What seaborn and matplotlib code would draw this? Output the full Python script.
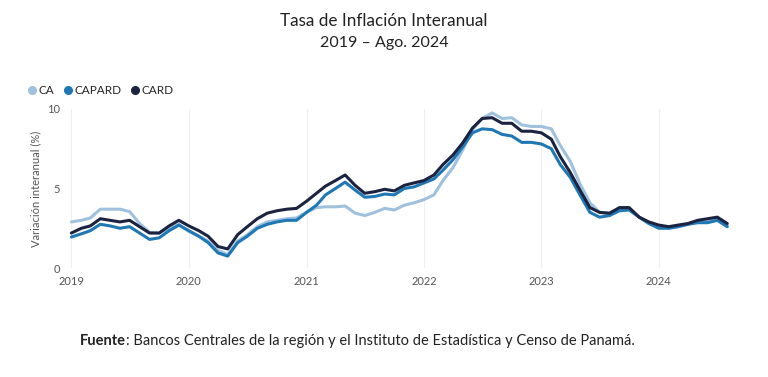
import numpy as np
import pandas as pd
import matplotlib.pyplot as plt
from matplotlib.lines import Line2D
import seaborn as sns

# monthly year-on-year inflation, Jan 2019 - Aug 2024
months = pd.date_range("2019-01-01", "2024-08-01", freq="MS")

ca = [2.9, 3.0, 3.15, 3.7, 3.7, 3.7, 3.55, 2.8, 2.25, 2.2, 2.5, 2.75,
      2.3, 2.0, 1.7, 1.1, 0.85, 1.7, 2.1, 2.6, 2.9, 3.0, 3.1, 3.15,
      3.5, 3.8, 3.85, 3.85, 3.9, 3.45, 3.3, 3.5, 3.75, 3.65, 3.95, 4.1,
      4.3, 4.6, 5.5, 6.3, 7.4, 8.7, 9.4, 9.75, 9.4, 9.45, 9.0, 8.9,
      8.9, 8.75, 7.7, 6.7, 5.3, 4.1, 3.5, 3.4, 3.7, 3.75, 3.2, 2.85,
      2.6, 2.5, 2.6, 2.75, 2.9, 2.95, 3.05, 2.7]
capard = [1.95, 2.15, 2.35, 2.75, 2.65, 2.5, 2.6, 2.2, 1.8, 1.9, 2.35, 2.7,
          2.35, 2.0, 1.6, 0.95, 0.75, 1.6, 2.0, 2.5, 2.75, 2.9, 3.0, 3.0,
          3.5, 3.95, 4.6, 5.0, 5.4, 4.9, 4.45, 4.5, 4.65, 4.6, 5.0, 5.1,
          5.35, 5.6, 6.15, 6.8, 7.6, 8.5, 8.75, 8.7, 8.4, 8.3, 7.9, 7.9,
          7.8, 7.5, 6.5, 5.7, 4.6, 3.5, 3.2, 3.3, 3.6, 3.65, 3.2, 2.8,
          2.5, 2.5, 2.6, 2.75, 2.85, 2.85, 3.0, 2.6]
card = [2.2, 2.5, 2.65, 3.1, 3.0, 2.9, 3.0, 2.6, 2.2, 2.2, 2.65, 3.0,
        2.65, 2.35, 2.0, 1.35, 1.2, 2.1, 2.6, 3.1, 3.45, 3.6, 3.7, 3.75,
        4.2, 4.7, 5.15, 5.5, 5.85, 5.2, 4.7, 4.8, 4.95, 4.85, 5.2, 5.35,
        5.5, 5.85, 6.5, 7.1, 7.85, 8.8, 9.4, 9.45, 9.1, 9.1, 8.6, 8.6,
        8.5, 8.1, 7.0, 6.0, 4.9, 3.8, 3.5, 3.45, 3.8, 3.8, 3.2, 2.9,
        2.7, 2.6, 2.7, 2.8, 3.0, 3.1, 3.2, 2.8]

series = ["CA", "CAPARD", "CARD"]
colors = ["#9fc1de", "#1f78b4", "#1b2340"]
years = ["2019", "2020", "2021", "2022", "2023", "2024"]

df = pd.DataFrame({"fecha": months, "CA": ca, "CAPARD": capard, "CARD": card})
df = df.melt(id_vars="fecha", var_name="serie", value_name="valor")

sns.set_style("white")
plt.rcParams["font.family"] = ["Lato", "DejaVu Sans"]

fig = plt.figure(figsize=(7.68, 3.77), dpi=100)
ax = fig.add_axes([0.085, 0.289, 0.872, 0.422])

sns.lineplot(data=df, x="fecha", y="valor", hue="serie", hue_order=series,
             palette=colors, linewidth=2.2, ax=ax, legend=False)

ax.set_ylim(0, 10)
ax.set_yticks([0, 5, 10])
ax.set_xlim(pd.Timestamp("2018-12-13"), pd.Timestamp("2024-08-25"))
ax.set_xticks([pd.Timestamp(y + "-01-01") for y in years])
ax.set_xticklabels(years)
ax.tick_params(axis="both", labelsize=8, colors="#555555", length=0)
ax.tick_params(axis="x", pad=6)
ax.tick_params(axis="y", pad=4)
ax.xaxis.grid(True, color="#f0f0f0", linewidth=0.8)
ax.yaxis.grid(False)
for s in ax.spines.values():
    s.set_visible(False)
ax.set_xlabel("")
ax.set_ylabel("Variación interanual (%)", fontsize=8, color="#555555", labelpad=4)

handles = [Line2D([], [], marker="o", linestyle="", color=c, markersize=5.5) for c in colors]
fig.legend(handles, series, loc="upper left", bbox_to_anchor=(0.03, 0.775),
           ncol=3, frameon=False, fontsize=8.5, handletextpad=-0.2, columnspacing=0.4,
           borderaxespad=0, borderpad=0, handlelength=1.5)

fig.text(0.5, 0.945, "Tasa de Inflación Interanual", ha="center", va="center",
         fontsize=12.3, color="#222222")
fig.text(0.5, 0.886, "2019 – Ago. 2024", ha="center", va="center",
         fontsize=11.5, color="#222222")

t1 = fig.text(0.104, 0.095, "Fuente", ha="left", va="center", fontsize=10.5,
              color="#222222", fontweight="bold")
fig.canvas.draw()
bb = t1.get_window_extent().transformed(fig.transFigure.inverted())
fig.text(bb.x1, 0.095, ": Bancos Centrales de la región y el Instituto de Estadística y Censo de Panamá.",
         ha="left", va="center", fontsize=10.5, color="#222222")

fig.savefig("out.png", dpi=100)
